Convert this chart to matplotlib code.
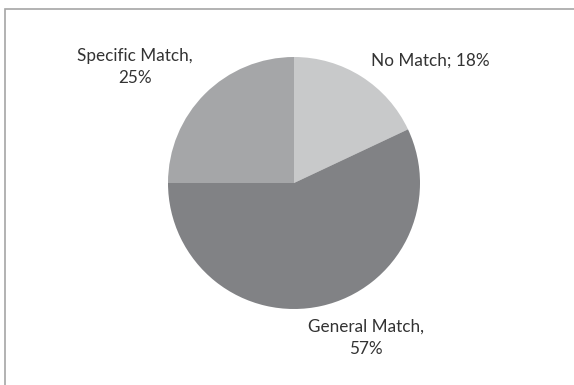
import matplotlib
matplotlib.use("Agg")
import matplotlib.pyplot as plt
from matplotlib.patches import Rectangle

categories = ["No Match", "General Match", "Specific Match"]
values = [18, 57, 25]
colors = ["#C8C9CA", "#818285", "#A5A6A8"]

plt.rcParams['font.family'] = ['Lato', 'DejaVu Sans']

W, H = 574, 385
fig = plt.figure(figsize=(W / 100, H / 100), dpi=100)
fig.patch.set_facecolor("white")

# chart frame
fig.patches.append(Rectangle((5 / W, -0.1), 1.2, 1 - 9.5 / H + 0.1,
                             transform=fig.transFigure, fill=False,
                             edgecolor="#A6A6A6", linewidth=1.2))

cx, cy, r = 294, 183, 126
ax = fig.add_axes([(cx - r) / W, (H - cy - r) / H, 2 * r / W, 2 * r / H])
ax.pie(values, colors=colors, startangle=90, counterclock=False,
       wedgeprops=dict(linewidth=0))
ax.set_xlim(-1, 1)
ax.set_ylim(-1, 1)
ax.set_aspect("equal")
ax.axis("off")

txt = dict(fontsize=12.3, color="#333333", ha="center", va="center",
           linespacing=1.45)
fig.text(430 / W, 1 - 61 / H, f"{categories[0]}; {values[0]}%", **txt)
fig.text(366 / W, 1 - 338 / H, f"{categories[1]},\n{values[1]}%", **txt)
fig.text(135 / W, 1 - 67 / H, f"{categories[2]},\n{values[2]}%", **txt)

fig.savefig("out.png", dpi=100)
